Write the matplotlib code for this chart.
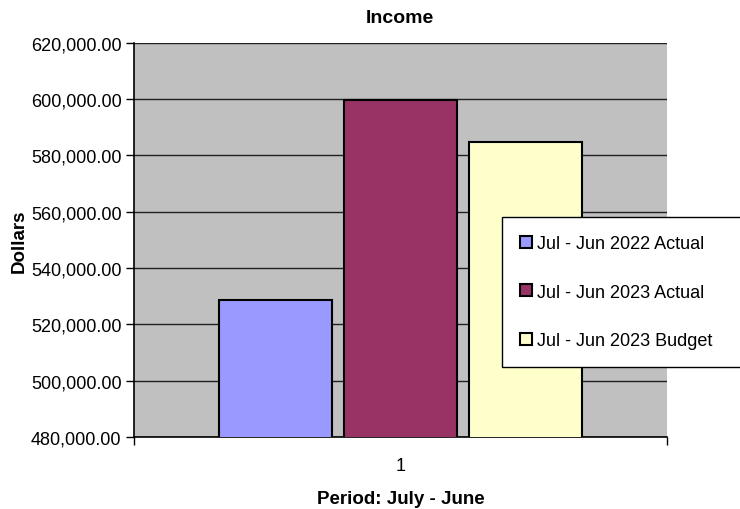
import matplotlib.pyplot as plt
import numpy as np
from matplotlib.ticker import FuncFormatter, FixedLocator

plt.rcParams['font.family'] = ['Liberation Sans', 'DejaVu Sans']

# Data
series = ['Jul - Jun 2022 Actual', 'Jul - Jun 2023 Actual', 'Jul - Jun 2023 Budget']
values = [528700, 599700, 584800]
colors = ['#9999FF', '#993366', '#FFFFCC']
category = ['1']

fig = plt.figure(figsize=(7.4, 5.1), dpi=100)
ax = fig.add_axes([0.181, 0.141, 0.720, 0.773])
ax.set_facecolor('#C0C0C0')

# Bars in one category group
width = 0.212
step = 0.2345
offsets = (np.arange(len(series)) - 1) * step
bars = []
for off, val, col, lab in zip(offsets, values, colors, series):
    b = ax.bar(off, val, width=width, color=col, edgecolor='black',
               linewidth=1.5, label=lab, zorder=3)
    bars.append(b)

ax.set_xlim(-0.5, 0.5)
ax.set_ylim(480000, 620000)
ax.set_yticks(np.arange(480000, 620001, 20000))
ax.yaxis.set_major_formatter(FuncFormatter(lambda v, p: f'{v:,.2f}'))
ax.yaxis.grid(True, color='#202020', linewidth=1.0, zorder=1)
ax.set_axisbelow(True)

ax.set_xticks([0])
ax.set_xticklabels(category)
ax.xaxis.set_minor_locator(FixedLocator([-0.5, 0.5]))
ax.tick_params(axis='x', which='major', length=0, pad=14, labelsize=13)
ax.tick_params(axis='x', which='minor', length=6, width=1, direction='out')
ax.tick_params(axis='y', length=6, width=1, direction='out', labelsize=13, pad=3)

for s in ['top', 'right']:
    ax.spines[s].set_visible(False)
for s in ['left', 'bottom']:
    ax.spines[s].set_color('black')
    ax.spines[s].set_linewidth(1.2)

ax.set_title('Income', fontsize=14, fontweight='bold', pad=15)
ax.set_xlabel('Period: July - June', fontsize=13.5, fontweight='bold', labelpad=12)
ax.set_ylabel('Dollars', fontsize=13.5, fontweight='bold')
ax.yaxis.set_label_coords(-0.2, 0.5)

leg = fig.legend(handles=[b[0] for b in bars], labels=series,
                 loc='upper left', bbox_to_anchor=(0.678, 0.284, 0.34, 0.2885),
                 mode='expand', fontsize=13, frameon=True, fancybox=False,
                 shadow=False, handlelength=0.65, handleheight=0.65,
                 handletextpad=0.3, labelspacing=1.75, borderpad=1.0,
                 borderaxespad=0)
leg.get_frame().set_edgecolor('black')
leg.get_frame().set_linewidth(1.0)
leg.get_frame().set_facecolor('white')
leg.get_frame().set_alpha(1)

fig.savefig('out.png', dpi=100)
